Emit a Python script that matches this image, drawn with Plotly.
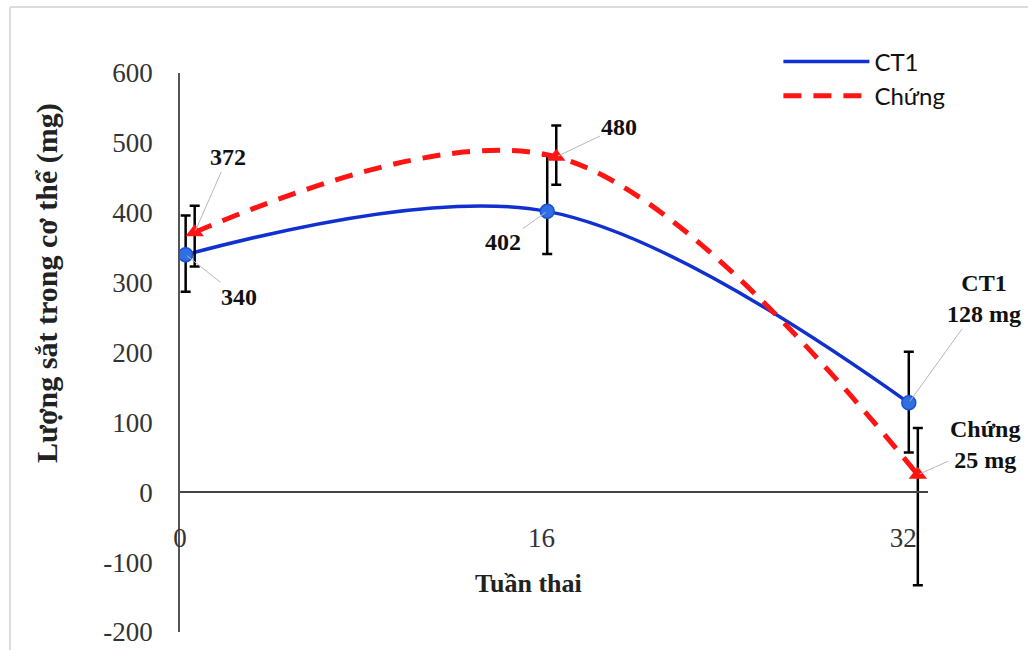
import plotly.graph_objects as go

# Gestational week and body iron content (mg)
weeks = [0, 16, 32]
ct1_iron = [340, 402, 128]
ct1_err_plus = [56, 80, 73]
ct1_err_minus = [53, 61, 71]
control_iron = [372, 480, 25]
control_err_plus = [38, 45, 67]
control_err_minus = [49, 40, 158]

series_names = ["CT1", "Chứng"]
x_tick_labels = ["0", "16", "32"]
y_tick_values = [-200, -100, 0, 100, 200, 300, 400, 500, 600]
y_tick_labels = ["-200", "-100", "0", "100", "200", "300", "400", "500", "600"]

# small horizontal shift so the two series' markers don't overlap
ct1_shift = 0.25
control_shift = 0.65
ct1_x = [w + ct1_shift for w in weeks]
control_x = [w + control_shift for w in weeks]

BLUE = "#1030d0"
RED = "#ff1414"
SERIF = "Liberation Serif"

ct1_line = dict(color=BLUE, width=3.5, shape="spline", smoothing=1)
control_line = dict(color=RED, width=5, dash="18px,12px", shape="spline", smoothing=1)

fig = go.Figure()

fig.add_trace(go.Scatter(
    x=ct1_x, y=ct1_iron, name=series_names[0], showlegend=False,
    mode="lines+markers", line=ct1_line,
    marker=dict(symbol="circle", size=14, color="#2f6fe0",
                line=dict(color="#1a4fd8", width=1.5)),
    error_y=dict(type="data", symmetric=False, array=ct1_err_plus,
                 arrayminus=ct1_err_minus, color="black", thickness=2.5, width=5),
))

fig.add_trace(go.Scatter(
    x=control_x, y=control_iron, name=series_names[1], showlegend=False,
    mode="lines+markers", line=control_line,
    marker=dict(symbol="triangle-up", size=16, color=RED),
    error_y=dict(type="data", symmetric=False, array=control_err_plus,
                 arrayminus=control_err_minus, color="black", thickness=2.5, width=5),
))

# legend entries showing only the line styles
for name, ln in zip(series_names, [ct1_line, control_line]):
    fig.add_trace(go.Scatter(x=[None], y=[None], name=name, mode="lines",
                             line={k: v for k, v in ln.items() if k not in ("shape", "smoothing")}))

label_font = dict(family=SERIF, size=24, color="#111")
leader = dict(showarrow=True, arrowhead=0, arrowwidth=1, arrowcolor="#b8b8b8",
              standoff=2, font=label_font, xref="x", yref="y")

annots = [
    dict(x=control_x[0], y=control_iron[0], text=f"<b>{control_iron[0]}</b>", ax=33, ay=-75),
    dict(x=ct1_x[0], y=ct1_iron[0], text=f"<b>{ct1_iron[0]}</b>", ax=53, ay=42),
    dict(x=ct1_x[1], y=ct1_iron[1], text=f"<b>{ct1_iron[1]}</b>", ax=-44, ay=31),
    dict(x=control_x[1], y=control_iron[1], text=f"<b>{control_iron[1]}</b>", ax=63, ay=-30),
    dict(x=ct1_x[2], y=ct1_iron[2], text=f"<b>{series_names[0]}<br>{ct1_iron[2]} mg</b>",
         ax=75, ay=-104),
    dict(x=control_x[2], y=control_iron[2], text=f"<b>{series_names[1]}<br>{control_iron[2]} mg</b>",
         ax=67, ay=-30),
]
for a in annots:
    fig.add_annotation(**{**leader, **a})

# axis titles
fig.add_annotation(text="<b>Tuần thai</b>", xref="paper", yref="paper",
                   x=(528 - 180) / 748, y=(632 - 583) / 559,
                   xanchor="center", yanchor="middle", showarrow=False,
                   font=dict(family=SERIF, size=26, color="#222"))
fig.add_annotation(text="<b>Lượng sắt trong cơ thể (mg)</b>", xref="paper", yref="paper",
                   x=(47 - 180) / 748, y=(632 - 283) / 559, textangle=-90,
                   xanchor="center", yanchor="middle", showarrow=False,
                   font=dict(family=SERIF, size=30, color="#222"))

# light frame around the figure
frame = dict(type="line", xref="paper", yref="paper",
             line=dict(color="#dcdcdc", width=2))
x_left = (10 - 180) / 748
y_top = (632 - 7) / 559
fig.add_shape(**frame, x0=x_left, x1=(1030 - 180) / 748, y0=y_top, y1=y_top)
fig.add_shape(**frame, x0=x_left, x1=x_left, y0=y_top, y1=(632 - 652) / 559)

fig.update_layout(
    width=1028, height=650,
    margin=dict(l=180, r=100, t=73, b=18, autoexpand=False),
    paper_bgcolor="white", plot_bgcolor="white",
    showlegend=True,
    legend=dict(x=0.8, y=1.06, xanchor="left", yanchor="top",
                font=dict(family="Lato", size=24, color="#111"),
                itemwidth=86, tracegroupgap=6, bgcolor="rgba(0,0,0,0)"),
    xaxis=dict(range=[0, 33.1], tickvals=weeks, ticktext=x_tick_labels,
               anchor="free", position=0.25, showline=True, linecolor="#444",
               linewidth=1.5, showgrid=False, zeroline=False, ticks="",
               automargin=False,
               tickfont=dict(family=SERIF, size=27, color="#333"),
               ticklabelstandoff=22),
    yaxis=dict(range=[-200, 600], tickvals=y_tick_values, ticktext=y_tick_labels,
               showline=True, linecolor="#555", linewidth=1.5,
               showgrid=False, zeroline=False, ticks="", automargin=False,
               tickfont=dict(family=SERIF, size=27, color="#333"),
               ticklabelstandoff=20),
)

fig.write_html("out.html")
